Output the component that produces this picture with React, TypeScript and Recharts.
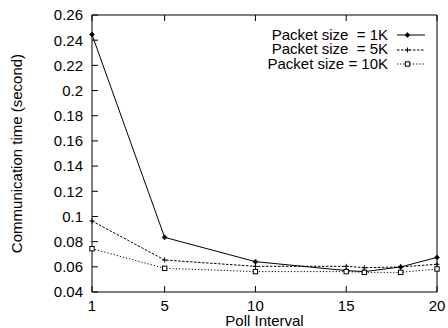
import React from 'react'
import { LineChart, Line, XAxis, YAxis, Legend } from 'recharts'

// poll interval (x) and communication time in seconds for each packet size
const interval = [1, 5, 10, 15, 16, 18, 20]
const size1K = [0.2445, 0.0834, 0.0641, 0.057, 0.0562, 0.0599, 0.0675]
const size5K = [0.0964, 0.0654, 0.0604, 0.0604, 0.0593, 0.0599, 0.062]
const size10K = [0.0744, 0.0588, 0.0562, 0.0562, 0.0556, 0.0556, 0.0583]

const xTicks = [1, 5, 10, 15, 20]
const yTicks = [0.04, 0.06, 0.08, 0.1, 0.12, 0.14, 0.16, 0.18, 0.2, 0.22, 0.24, 0.26]

const legendLabels = ['Packet size  = 1K', 'Packet size  = 5K', 'Packet size = 10K']

const data = interval.map((x, i) => ({
  x,
  s1: size1K[i],
  s5: size5K[i],
  s10: size10K[i],
}))

const FONT = '"Liberation Sans", Arial, Helvetica, sans-serif'
const FS = 15

const Diamond = (props: any) => {
  const { cx, cy, index } = props
  if (cx == null || cy == null) return <g key={index} />
  return (
    <path
      key={index}
      d={`M${cx},${cy - 2.5}L${cx + 2.5},${cy}L${cx},${cy + 2.5}L${cx - 2.5},${cy}Z`}
      fill="#000"
      stroke="#000"
      strokeWidth={0.6}
    />
  )
}

const Plus = (props: any) => {
  const { cx, cy, index } = props
  if (cx == null || cy == null) return <g key={index} />
  return (
    <path
      key={index}
      d={`M${cx - 2.5},${cy}H${cx + 2.5}M${cx},${cy - 2.5}V${cy + 2.5}`}
      stroke="#000"
      strokeWidth={1}
      fill="none"
    />
  )
}

const Square = (props: any) => {
  const { cx, cy, index } = props
  if (cx == null || cy == null) return <g key={index} />
  return (
    <rect key={index} x={cx - 2.2} y={cy - 2.2} width={4.4} height={4.4} fill="#fff" stroke="#000" strokeWidth={1} />
  )
}

const fmt = (v: number) => String(+v.toFixed(2))

const DASH5 = '2.5 1.5'
const DOT10 = '1.2 2'

function LegendBox() {
  const styles = [
    { dash: undefined, marker: <Diamond cx={19.5} cy={5} index={0} /> },
    { dash: DASH5, marker: <Plus cx={19.5} cy={5} index={0} /> },
    { dash: DOT10, marker: <Square cx={19.5} cy={5} index={0} /> },
  ]
  return (
    <div style={{ fontFamily: FONT, fontSize: FS, color: '#000' }}>
      {legendLabels.map((label, i) => (
        <div
          key={label}
          style={{ display: 'flex', justifyContent: 'flex-end', alignItems: 'center', height: 14.75, lineHeight: '14.75px' }}
        >
          <span style={{ whiteSpace: 'pre' }}>{label}</span>
          <svg width={40} height={10} style={{ display: 'block' }}>
            <line x1={9} y1={5} x2={37} y2={5} stroke="#000" strokeWidth={1} strokeDasharray={styles[i].dash} />
            {styles[i].marker}
          </svg>
        </div>
      ))}
    </div>
  )
}

export default function App() {
  return (
    <div style={{ position: 'absolute', left: 0, top: 0, width: 448, height: 328, background: '#fff' }}>
      <LineChart width={448} height={328} data={data} margin={{ top: 14, right: 10, bottom: 0, left: 0 }}>
        <XAxis
          xAxisId="bottom"
          dataKey="x"
          type="number"
          domain={[1, 20]}
          ticks={xTicks}
          interval={0}
          height={36}
          stroke="#000"
          tickSize={-6}
          tickMargin={14}
          tick={{ fill: '#000', fontSize: FS, fontFamily: FONT }}
          label={{
            content: (p: any) => (
              <text
                x={p.viewBox.x + p.viewBox.width / 2}
                y={p.viewBox.y + p.viewBox.height - 2}
                textAnchor="middle"
                fontSize={FS}
                fontFamily={FONT}
                fill="#000"
              >
                Poll Interval
              </text>
            ),
          }}
        />
        <XAxis
          xAxisId="top"
          orientation="top"
          dataKey="x"
          type="number"
          domain={[1, 20]}
          ticks={xTicks}
          interval={0}
          height={1}
          stroke="#000"
          tickSize={-6}
          tickFormatter={() => ''}
        />
        <YAxis
          yAxisId="left"
          domain={[0.04, 0.26]}
          ticks={yTicks}
          interval={0}
          width={92}
          stroke="#000"
          tickSize={-6}
          tickMargin={15}
          tickFormatter={fmt}
          tick={{ fill: '#000', fontSize: FS, fontFamily: FONT }}
          label={{
            content: (p: any) => {
              const cy = p.viewBox.y + p.viewBox.height / 2
              return (
                <text
                  x={22}
                  y={cy}
                  transform={`rotate(-90, 22, ${cy})`}
                  textAnchor="middle"
                  fontSize={FS}
                  fontFamily={FONT}
                  fill="#000"
                >
                  Communication time (second)
                </text>
              )
            },
          }}
        />
        <YAxis
          yAxisId="right"
          orientation="right"
          domain={[0.04, 0.26]}
          ticks={yTicks}
          interval={0}
          width={1}
          stroke="#000"
          tickSize={-6}
          tickFormatter={() => ''}
        />
        <Legend
          layout="vertical"
          align="center"
          verticalAlign="middle"
          content={() => <LegendBox />}
          wrapperStyle={{ position: 'absolute', top: 27.6, left: 188, width: 240, height: 50 }}
        />
        <Line
          xAxisId="bottom"
          yAxisId="left"
          dataKey="s1"
          stroke="#000"
          strokeWidth={1}
          dot={Diamond}
          activeDot={false}
          isAnimationActive={false}
        />
        <Line
          xAxisId="bottom"
          yAxisId="left"
          dataKey="s5"
          stroke="#000"
          strokeWidth={1}
          strokeDasharray={DASH5}
          dot={Plus}
          activeDot={false}
          isAnimationActive={false}
        />
        <Line
          xAxisId="bottom"
          yAxisId="left"
          dataKey="s10"
          stroke="#000"
          strokeWidth={1}
          strokeDasharray={DOT10}
          dot={Square}
          activeDot={false}
          isAnimationActive={false}
        />
      </LineChart>
    </div>
  )
}
